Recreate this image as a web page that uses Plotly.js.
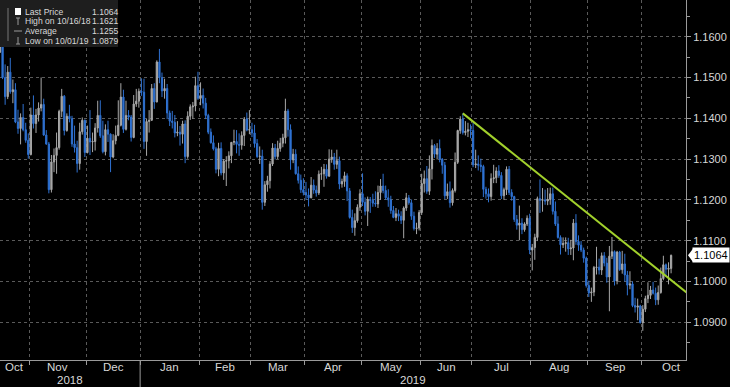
<!DOCTYPE html>
<html><head><meta charset="utf-8">
<script src="https://cdn.plot.ly/plotly-3.0.1.min.js"></script>
<style>html,body{margin:0;padding:0;background:#000;}#chart{width:730px;height:387px;}</style>
</head><body><div id="chart"></div>
<script>
// ---- data (EUR/USD daily) ----
const startDate = '2018-10-16';
const open = [
1.1562,1.1576,1.1500,1.1453,1.1513,1.1465,1.1470,1.1391,1.1375,1.1402,1.1372,1.1346,
1.1311,1.1408,1.1387,1.1408,1.1425,1.1434,1.1359,1.1337,1.1225,1.1293,1.1309,1.1328,1.1417,1.1454,1.1370,1.1405,1.1399,1.1337,1.1328,1.1289,1.1367,1.1395,
1.1316,1.1351,1.1342,1.1343,1.1376,1.1407,1.1357,1.1318,1.1372,1.1361,1.1305,1.1345,1.1358,1.1383,1.1452,1.1373,1.1407,1.1403,1.1353,1.1435,1.1442,
1.1466,1.1464,1.1343,1.1392,1.1395,1.1473,1.1440,1.1538,1.1500,1.1467,1.1473,1.1413,1.1393,1.1390,1.1364,1.1366,1.1361,1.1386,1.1306,1.1405,1.1428,1.1430,1.1480,
1.1449,1.1456,1.1437,1.1407,1.1366,1.1340,1.1325,1.1275,1.1326,1.1266,1.1295,1.1296,1.1308,1.1341,1.1343,1.1336,1.1334,1.1358,1.1398,1.1371,
1.1372,1.1364,1.1338,1.1306,1.1307,1.1194,1.1237,1.1247,1.1288,1.1327,1.1306,1.1326,1.1339,1.1352,1.1418,1.1372,1.1298,1.1312,1.1264,1.1248,1.1225,
1.1218,1.1212,1.1205,1.1236,1.1224,1.1217,1.1263,1.1264,1.1275,1.1258,1.1300,1.1305,1.1287,1.1296,1.1239,1.1245,1.1259,1.1222,1.1157,1.1132,1.1149,1.1182,
1.1215,1.1194,1.1172,1.1201,1.1199,1.1192,1.1190,1.1218,1.1234,1.1223,1.1205,1.1200,1.1174,1.1157,1.1166,1.1160,1.1150,1.1180,1.1205,1.1193,1.1160,1.1130,1.1131,
1.1169,1.1240,1.1252,1.1221,1.1276,1.1333,1.1312,1.1326,1.1300,1.1285,1.1210,1.1220,1.1193,1.1223,1.1292,1.1370,1.1398,1.1365,1.1368,1.1372,
1.1370,1.1286,1.1288,1.1285,1.1282,1.1226,1.1215,1.1208,1.1252,1.1254,1.1271,1.1260,1.1210,1.1225,1.1275,1.1218,1.1208,1.1152,1.1138,1.1143,1.1127,1.1141,1.1155,
1.1077,1.1083,1.1108,1.1203,1.1199,1.1200,1.1197,1.1201,1.1215,1.1172,1.1141,1.1108,1.1090,1.1093,1.1095,1.1080,1.1082,1.1143,1.1098,1.1089,1.1077,1.1057,
1.0990,1.0972,1.0974,1.1034,1.1035,1.1028,1.1063,1.1045,1.1011,1.1062,1.1073,1.1001,1.1072,1.1029,1.1043,1.1016,1.0991,1.0994,1.0941,1.0937,1.0940,
1.0899,1.0932,1.0958,1.0966,1.0979,1.0971,1.0955,1.0973,1.1007,1.1041,1.1030,1.1032];
const high = [
1.1621,1.1580,1.1532,1.1528,1.1548,1.1495,1.1486,1.1421,1.1412,1.1435,1.1389,1.1363,
1.1426,1.1456,1.1423,1.1439,1.1500,1.1448,1.1371,1.1342,1.1310,1.1326,1.1365,1.1421,1.1472,1.1457,1.1412,1.1433,1.1406,1.1382,1.1345,1.1389,1.1402,1.1397,
1.1382,1.1420,1.1365,1.1388,1.1443,1.1444,1.1394,1.1385,1.1394,1.1363,1.1361,1.1382,1.1444,1.1486,1.1470,1.1443,1.1420,1.1408,1.1457,1.1472,1.1473,
1.1498,1.1497,1.1398,1.1420,1.1484,1.1486,1.1542,1.1570,1.1512,1.1497,1.1484,1.1419,1.1418,1.1408,1.1393,1.1381,1.1394,1.1395,1.1417,1.1434,1.1440,1.1502,1.1514,
1.1488,1.1473,1.1450,1.1411,1.1375,1.1358,1.1330,1.1340,1.1341,1.1300,1.1307,1.1319,1.1341,1.1372,1.1371,1.1363,1.1368,1.1403,1.1414,1.1420,
1.1389,1.1384,1.1349,1.1331,1.1323,1.1246,1.1259,1.1295,1.1339,1.1337,1.1345,1.1352,1.1362,1.1448,1.1423,1.1385,1.1325,1.1324,1.1282,1.1262,1.1253,
1.1244,1.1228,1.1256,1.1250,1.1235,1.1272,1.1281,1.1288,1.1287,1.1324,1.1323,1.1315,1.1323,1.1306,1.1252,1.1269,1.1265,1.1229,1.1176,1.1167,1.1189,1.1226,
1.1265,1.1206,1.1208,1.1207,1.1215,1.1221,1.1235,1.1251,1.1264,1.1235,1.1226,1.1210,1.1185,1.1180,1.1176,1.1172,1.1184,1.1217,1.1212,1.1201,1.1171,1.1144,1.1175,
1.1264,1.1272,1.1283,1.1309,1.1348,1.1337,1.1339,1.1348,1.1302,1.1293,1.1240,1.1245,1.1228,1.1316,1.1372,1.1405,1.1412,1.1393,1.1389,1.1385,
1.1389,1.1323,1.1309,1.1301,1.1286,1.1232,1.1228,1.1265,1.1286,1.1280,1.1285,1.1268,1.1230,1.1282,1.1283,1.1226,1.1210,1.1163,1.1186,1.1155,1.1145,1.1162,1.1166,
1.1092,1.1117,1.1208,1.1250,1.1229,1.1225,1.1229,1.1230,1.1230,1.1196,1.1160,1.1113,1.1108,1.1108,1.1107,1.1102,1.1153,1.1165,1.1113,1.1099,1.1083,1.1061,
1.1002,1.0985,1.1038,1.1085,1.1056,1.1071,1.1072,1.1058,1.1087,1.1109,1.1076,1.1075,1.1075,1.1075,1.1068,1.1026,1.1025,1.1000,1.0960,1.0958,1.0943,
1.0942,1.0965,1.0998,1.0989,1.0999,1.0985,1.0990,1.1034,1.1063,1.1044,1.1047,1.1066];
const low = [
1.1560,1.1496,1.1433,1.1447,1.1460,1.1437,1.1388,1.1362,1.1336,1.1368,1.1340,1.1301,
1.1309,1.1375,1.1364,1.1392,1.1417,1.1357,1.1335,1.1216,1.1218,1.1268,1.1264,1.1323,1.1403,1.1358,1.1367,1.1390,1.1330,1.1316,1.1267,1.1274,1.1360,1.1305,
1.1314,1.1310,1.1317,1.1321,1.1365,1.1352,1.1314,1.1309,1.1342,1.1268,1.1302,1.1336,1.1356,1.1380,1.1364,1.1370,1.1395,1.1343,1.1351,1.1428,1.1426,
1.1455,1.1325,1.1308,1.1365,1.1394,1.1423,1.1439,1.1486,1.1452,1.1448,1.1398,1.1381,1.1375,1.1353,1.1356,1.1333,1.1338,1.1290,1.1301,1.1396,1.1399,1.1417,1.1445,
1.1432,1.1424,1.1398,1.1361,1.1338,1.1321,1.1265,1.1258,1.1260,1.1249,1.1234,1.1277,1.1290,1.1334,1.1314,1.1308,1.1323,1.1332,1.1368,1.1361,
1.1354,1.1328,1.1303,1.1288,1.1176,1.1185,1.1220,1.1228,1.1283,1.1299,1.1300,1.1318,1.1329,1.1338,1.1355,1.1274,1.1290,1.1262,1.1240,1.1217,1.1211,
1.1200,1.1184,1.1204,1.1215,1.1208,1.1212,1.1249,1.1232,1.1252,1.1257,1.1291,1.1274,1.1276,1.1226,1.1230,1.1232,1.1197,1.1154,1.1119,1.1112,1.1144,1.1173,
1.1185,1.1162,1.1136,1.1168,1.1183,1.1183,1.1180,1.1200,1.1216,1.1200,1.1183,1.1166,1.1155,1.1148,1.1148,1.1141,1.1106,1.1173,1.1188,1.1151,1.1125,1.1116,1.1125,
1.1163,1.1218,1.1215,1.1212,1.1250,1.1303,1.1299,1.1292,1.1264,1.1202,1.1202,1.1181,1.1186,1.1218,1.1288,1.1362,1.1360,1.1358,1.1354,1.1351,
1.1280,1.1278,1.1272,1.1268,1.1207,1.1203,1.1194,1.1198,1.1241,1.1241,1.1254,1.1202,1.1200,1.1212,1.1212,1.1198,1.1146,1.1127,1.1101,1.1116,1.1122,1.1136,1.1067,
1.1027,1.1053,1.1099,1.1168,1.1171,1.1188,1.1187,1.1188,1.1164,1.1136,1.1105,1.1066,1.1082,1.1073,1.1065,1.1065,1.1052,1.1090,1.1075,1.1072,1.1046,1.0985,
1.0962,1.0950,1.0964,1.1017,1.1017,1.1016,1.1037,1.0997,1.0927,1.1055,1.0990,1.0993,1.1026,1.1019,1.1000,1.0966,1.0981,1.0937,1.0924,1.0905,1.0897,
1.0879,1.0925,1.0947,1.0957,1.0968,1.0942,1.0943,1.0970,1.1003,1.1011,1.0993,1.1020];
const close = [
1.1576,1.1500,1.1453,1.1513,1.1465,1.1470,1.1391,1.1375,1.1402,1.1372,1.1346,1.1311,
1.1408,1.1387,1.1408,1.1425,1.1434,1.1359,1.1337,1.1225,1.1293,1.1309,1.1328,1.1417,1.1454,1.1370,1.1405,1.1399,1.1337,1.1328,1.1289,1.1367,1.1395,1.1316,
1.1351,1.1342,1.1343,1.1376,1.1407,1.1357,1.1318,1.1372,1.1361,1.1305,1.1345,1.1358,1.1383,1.1452,1.1373,1.1407,1.1403,1.1353,1.1435,1.1442,1.1466,
1.1464,1.1343,1.1392,1.1395,1.1473,1.1440,1.1538,1.1500,1.1467,1.1473,1.1413,1.1393,1.1390,1.1364,1.1366,1.1361,1.1386,1.1306,1.1405,1.1428,1.1430,1.1480,1.1449,
1.1456,1.1437,1.1407,1.1366,1.1340,1.1325,1.1275,1.1326,1.1266,1.1295,1.1296,1.1308,1.1341,1.1343,1.1336,1.1334,1.1358,1.1398,1.1371,1.1372,
1.1364,1.1338,1.1306,1.1307,1.1194,1.1237,1.1247,1.1288,1.1327,1.1306,1.1326,1.1339,1.1352,1.1418,1.1372,1.1298,1.1312,1.1264,1.1248,1.1225,1.1218,
1.1212,1.1205,1.1236,1.1224,1.1217,1.1263,1.1264,1.1275,1.1258,1.1300,1.1305,1.1287,1.1296,1.1239,1.1245,1.1259,1.1222,1.1157,1.1132,1.1149,1.1182,1.1215,
1.1194,1.1172,1.1201,1.1199,1.1192,1.1190,1.1218,1.1234,1.1223,1.1205,1.1200,1.1174,1.1157,1.1166,1.1160,1.1150,1.1180,1.1205,1.1193,1.1160,1.1130,1.1131,1.1169,
1.1240,1.1252,1.1221,1.1276,1.1333,1.1312,1.1326,1.1300,1.1285,1.1210,1.1220,1.1193,1.1223,1.1292,1.1370,1.1398,1.1365,1.1368,1.1372,1.1370,
1.1286,1.1288,1.1285,1.1282,1.1226,1.1215,1.1208,1.1252,1.1254,1.1271,1.1260,1.1210,1.1225,1.1275,1.1218,1.1208,1.1152,1.1138,1.1143,1.1127,1.1141,1.1155,1.1077,
1.1083,1.1108,1.1203,1.1199,1.1200,1.1197,1.1201,1.1215,1.1172,1.1141,1.1108,1.1090,1.1093,1.1095,1.1080,1.1082,1.1143,1.1098,1.1089,1.1077,1.1057,1.0990,
1.0972,1.0974,1.1034,1.1035,1.1028,1.1063,1.1045,1.1011,1.1062,1.1073,1.1001,1.1072,1.1029,1.1043,1.1016,1.0991,1.0994,1.0941,1.0937,1.0940,1.0899,
1.0932,1.0958,1.0966,1.0979,1.0971,1.0955,1.0973,1.1007,1.1041,1.1030,1.1032,1.1064];
const monthNames = ['Jan','Feb','Mar','Apr','May','Jun','Jul','Aug','Sep','Oct','Nov','Dec'];
const legendLabels = ['Last Price','High on 10/16/18','Average','Low on 10/01/19'];
const legendValues = ['1.1064','1.1621','1.1255','1.0879'];
const lastPrice = 1.1064;
const trendDates = ['2019-06-25','2019-10-24'];
const trendPrices = [1.1412, 1.0973];

// ---- helpers: trading-day (weekday) calendar ----
function isWeekday(d){const w=d.getUTCDay();return w!==0&&w!==6;}
function weekdaysFrom(start,n){const out=[];const d=new Date(start+'T00:00:00Z');
  while(out.length<n){if(isWeekday(d))out.push(d.toISOString().slice(0,10));d.setUTCDate(d.getUTCDate()+1);}return out;}
function idxOf(ds){const d=new Date(startDate+'T00:00:00Z'),e=new Date(ds+'T00:00:00Z');let k=0;
  while(d<e){if(isWeekday(d))k++;d.setUTCDate(d.getUTCDate()+1);}return k;}
const dates = weekdaysFrom(startDate, close.length);
const xi = dates.map((_,i)=>i);
const XMIN = 0, XMAX = 266.8;

// month boundaries and label centres
const bounds=[], segMonth=[dates[0].slice(0,7)];
for(let i=1;i<dates.length;i++){ if(dates[i].slice(0,7)!==dates[i-1].slice(0,7)){bounds.push(i-0.5);segMonth.push(dates[i].slice(0,7));} }
const lastYM = dates[dates.length-1].slice(0,7).split('-').map(Number);
const nextMonth = lastYM[1]===12 ? (lastYM[0]+1)+'-01-01' : lastYM[0]+'-'+String(lastYM[1]+1).padStart(2,'0')+'-01';
const segStart=[XMIN,...bounds], segEnd=[...bounds, idxOf(nextMonth)-0.5];
const labelPos = segStart.map((s,k)=>(s+segEnd[k])/2);
const labelText = segMonth.map(m=>monthNames[Number(m.slice(5,7))-1]);
// year boundaries
const yearB=[]; const years=[dates[0].slice(0,4)];
for(let i=1;i<dates.length;i++){ if(dates[i].slice(0,4)!==dates[i-1].slice(0,4)){yearB.push(i-0.5);years.push(dates[i].slice(0,4));} }
const yStart=[XMIN,...yearB], yEnd=[...yearB,XMAX];

// ---- styling ----
const FONT='"Liberation Sans",Arial,sans-serif';
const UP='#a8a8a8', DOWN='#2f72d2', GRID='#5a5a5a', AX='#9a9a9a', TXT='#d8d8d8';
const W=686, H=360; // plot box in pixels
const px=x=>x/W, py=y=>1-y/H;

const traces=[
 {type:'candlestick', x:xi, open:open, high:high, low:low, close:close,
  increasing:{line:{color:UP,width:1},fillcolor:UP},
  decreasing:{line:{color:DOWN,width:1},fillcolor:DOWN},
  whiskerwidth:0, hoverinfo:'skip', showlegend:false},
 {type:'scatter', mode:'lines', x:trendDates.map(idxOf), y:trendPrices,
  line:{color:'#a2d12c',width:2}, hoverinfo:'skip', showlegend:false}
];

const shapes=[
 // legend panel
 {type:'rect',xref:'paper',yref:'paper',x0:0,x1:px(118),y0:py(47),y1:1,fillcolor:'#1e1e1e',line:{width:0},layer:'above'},
 {type:'line',xref:'paper',yref:'paper',x0:px(8),x1:px(8),y0:py(8),y1:py(41),line:{color:'#777',width:1},layer:'above'},
 {type:'rect',xref:'paper',yref:'paper',x0:px(15),x1:px(21),y0:py(15),y1:py(8),fillcolor:'#ffffff',line:{width:0},layer:'above'},
 {type:'line',xref:'paper',yref:'paper',x0:px(18),x1:px(18),y0:py(18),y1:py(25),line:{color:'#999',width:1},layer:'above'},
 {type:'line',xref:'paper',yref:'paper',x0:px(16),x1:px(20),y0:py(18),y1:py(18),line:{color:'#999',width:1},layer:'above'},
 {type:'line',xref:'paper',yref:'paper',x0:px(14),x1:px(22),y0:py(31),y1:py(31),line:{color:'#999',width:1},layer:'above'},
 {type:'line',xref:'paper',yref:'paper',x0:px(18),x1:px(18),y0:py(37),y1:py(44),line:{color:'#999',width:1},layer:'above'},
 {type:'line',xref:'paper',yref:'paper',x0:px(16),x1:px(20),y0:py(44),y1:py(44),line:{color:'#999',width:1},layer:'above'},
 // year divider
 ...yearB.map(b=>({type:'line',xref:'x',yref:'paper',x0:b,x1:b,y0:0,y1:-27/H,line:{color:AX,width:1}})),
 // last price pointer
 {type:'path',xref:'paper',yref:'y',path:`M ${px(688)},${lastPrice} L ${px(693)},${lastPrice+0.0016} L ${px(693)},${lastPrice-0.0016} Z`,fillcolor:'#ffffff',line:{width:0}}
];

const annotations=[
 ...legendLabels.map((t,k)=>({xref:'paper',yref:'paper',x:px(23),y:py(11.5+9.7*k),text:t,showarrow:false,xanchor:'left',yanchor:'middle',font:{family:FONT,size:8.6,color:TXT}})),
 ...legendValues.map((t,k)=>({xref:'paper',yref:'paper',x:px(90),y:py(11.5+9.7*k),text:t,showarrow:false,xanchor:'left',yanchor:'middle',font:{family:FONT,size:8.6,color:TXT}})),
 ...labelText.map((t,k)=>({xref:'x',yref:'paper',x:labelPos[k],y:0,yshift:-7,text:t,showarrow:false,xanchor:'center',yanchor:'middle',font:{family:FONT,size:11.5,color:TXT}})),
 ...years.map((yv,k)=>({xref:'x',yref:'paper',x:(yStart[k]+yEnd[k])/2,y:0,yshift:-19.5,text:yv,showarrow:false,xanchor:'center',yanchor:'middle',font:{family:FONT,size:11.5,color:TXT}})),
 {xref:'paper',yref:'y',x:1,xshift:6,y:lastPrice,text:lastPrice.toFixed(4),showarrow:false,xanchor:'left',yanchor:'middle',bgcolor:'#ffffff',borderpad:1,font:{family:FONT,size:11,color:'#000'}}
];

const layout={
 width:730,height:387,margin:{l:0,r:44,t:0,b:27},
 paper_bgcolor:'#000',plot_bgcolor:'#000',showlegend:false,hovermode:false,
 xaxis:{type:'linear',range:[XMIN,XMAX],rangeslider:{visible:false},fixedrange:true,
   tickmode:'array',tickvals:bounds,showticklabels:false,ticks:'outside',ticklen:4,tickcolor:AX,
   showgrid:true,gridcolor:GRID,griddash:'dot',gridwidth:1,zeroline:false,
   showline:true,linecolor:AX,linewidth:1},
 yaxis:{side:'right',range:[1.08075,1.16899],fixedrange:true,tickmode:'linear',tick0:1.09,dtick:0.01,tickformat:'.4f',
   ticks:'outside',ticklen:4,tickcolor:AX,showline:true,linecolor:AX,linewidth:1,zeroline:false,
   showgrid:true,gridcolor:GRID,griddash:'dot',gridwidth:1,tickfont:{family:FONT,size:11,color:TXT},
   minor:{tickmode:'linear',tick0:1.085,dtick:0.01,ticks:'outside',ticklen:3,tickcolor:AX,showgrid:false}},
 shapes:shapes,annotations:annotations
};
Plotly.newPlot('chart',traces,layout,{staticPlot:true,displayModeBar:false});
</script></body></html>
